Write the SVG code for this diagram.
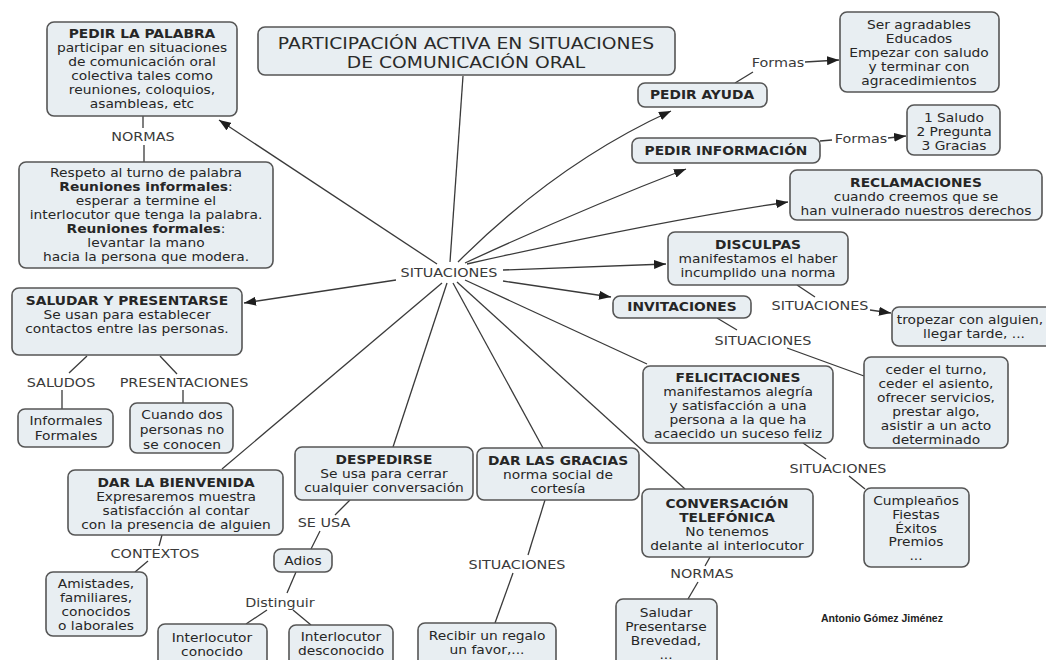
<svg xmlns="http://www.w3.org/2000/svg" width="1046" height="660" viewBox="0 0 1046 660">
<style>
.bx{fill:#e8eef2;stroke:#555;stroke-width:1.6}
.t{font-family:"DejaVu Sans",Verdana,sans-serif;font-size:11.5px;fill:#262626;text-anchor:middle}
.b{font-weight:bold}
.lb{font-family:"DejaVu Sans",Verdana,sans-serif;font-size:12px;fill:#3a3a3a;text-anchor:middle}
.ttl{font-family:"DejaVu Sans",Verdana,sans-serif;font-size:15.6px;fill:#2a2a2a;text-anchor:middle}
.c{fill:none;stroke:#3a3a3a;stroke-width:1.3}
.a{marker-end:url(#ah)}
</style>
<defs>
<marker id="ah" markerUnits="userSpaceOnUse" markerWidth="13" markerHeight="9" refX="12" refY="4.5" orient="auto">
<path d="M0,0 L12,4.5 L0,9 z" fill="#1e1e1e"/>
</marker>
</defs>
<rect width="1046" height="660" fill="#fff"/>

<g id="connectors">
<path class="c" d="M463,76 L450,262"/>
<path class="c a" d="M437,264 L219,120"/>
<path class="c a" d="M396,280 L244,303"/>
<path class="c" d="M442,283 L222,469"/>
<path class="c" d="M447,283 L393,447"/>
<path class="c" d="M453,283 L543,448"/>
<path class="c" d="M457,282 L685,489"/>
<path class="c" d="M465,280 L647,364"/>
<path class="c a" d="M503,281 L611,297"/>
<path class="c a" d="M503,270 L666,264"/>
<path class="c a" d="M467,264 Q658,221 788,202"/>
<path class="c a" d="M465,263 Q575,212 686,169"/>
<path class="c a" d="M458,262 Q557,163 671,111"/>
<path class="c" d="M143,116 L143,128"/>
<path class="c" d="M144,145 L144,162"/>
<path class="c" d="M87,356 L69,373"/>
<path class="c" d="M62,390 L62,409"/>
<path class="c" d="M160,356 L177,374"/>
<path class="c" d="M183,390 L183,403"/>
<path class="c" d="M162,535 L159,546"/>
<path class="c" d="M148,561 L135,572"/>
<path class="c" d="M350,500 L335,515"/>
<path class="c" d="M320,531 L311,549"/>
<path class="c" d="M296,572 L287,593"/>
<path class="c" d="M267,610 L246,624"/>
<path class="c" d="M293,610 L311,625"/>
<path class="c" d="M545,500 L528,555"/>
<path class="c" d="M513,573 L495,623"/>
<path class="c" d="M710,557 L705,566"/>
<path class="c" d="M698,582 L688,599"/>
<path class="c" d="M803,443 L826,459"/>
<path class="c" d="M849,476 L865,489"/>
<path class="c" d="M717,318 L737,330"/>
<path class="c" d="M787,348 L864,376"/>
<path class="c" d="M797,285 L815,297"/>
<path class="c a" d="M870,310 L891,313"/>
<path class="c" d="M820,141 L832,140"/>
<path class="c a" d="M888,138 L906,136"/>
<path class="c" d="M735,83 L753,72"/>
<path class="c a" d="M805,62 L839,60"/>
</g>

<g id="labels">
<text class="lb" transform="translate(449,277) scale(1.2,1)">SITUACIONES</text>
<text class="lb" transform="translate(143,141) scale(1.2,1)">NORMAS</text>
<text class="lb" transform="translate(61,387) scale(1.2,1)">SALUDOS</text>
<text class="lb" transform="translate(184,387) scale(1.2,1)">PRESENTACIONES</text>
<text class="lb" transform="translate(155,558) scale(1.2,1)">CONTEXTOS</text>
<text class="lb" transform="translate(324,527) scale(1.2,1)">SE USA</text>
<text class="lb" transform="translate(280,607) scale(1.2,1)">Distinguir</text>
<text class="lb" transform="translate(517,569) scale(1.2,1)">SITUACIONES</text>
<text class="lb" transform="translate(702,578) scale(1.2,1)">NORMAS</text>
<text class="lb" transform="translate(838,473) scale(1.2,1)">SITUACIONES</text>
<text class="lb" transform="translate(763,345) scale(1.2,1)">SITUACIONES</text>
<text class="lb" transform="translate(820,310) scale(1.2,1)">SITUACIONES</text>
<text class="lb" transform="translate(861,143) scale(1.2,1)">Formas</text>
<text class="lb" transform="translate(778,67) scale(1.2,1)">Formas</text>
<text x="882" y="622" style="font-family:'Liberation Sans',Arial,sans-serif;font-size:10.5px;font-weight:bold;fill:#222;text-anchor:middle">Antonio Gómez Jiménez</text>
</g>

<g id="title">
<rect class="bx" x="258" y="27" width="417" height="48" rx="7"/>
<text class="ttl" transform="translate(466,49) scale(1.2,1)">PARTICIPACIÓN ACTIVA EN SITUACIONES</text>
<text class="ttl" transform="translate(466,68) scale(1.2,1)">DE COMUNICACIÓN ORAL</text>
</g>

<g id="pedir-palabra">
<rect class="bx" x="47" y="22" width="190" height="94" rx="7"/>
<text class="t b" transform="translate(142,38) scale(1.2,1)">PEDIR LA PALABRA</text>
<text class="t" transform="translate(142,52) scale(1.2,1)">participar en situaciones</text>
<text class="t" transform="translate(142,66) scale(1.2,1)">de comunicación oral</text>
<text class="t" transform="translate(142,80) scale(1.2,1)">colectiva tales como</text>
<text class="t" transform="translate(142,94) scale(1.2,1)">reuniones, coloquios,</text>
<text class="t" transform="translate(142,108) scale(1.2,1)">asambleas, etc</text>
</g>

<g id="respeto">
<rect class="bx" x="19" y="162" width="254" height="106" rx="7"/>
<text class="t" transform="translate(146,177) scale(1.2,1)">Respeto al turno de palabra</text>
<text class="t" transform="translate(146,191) scale(1.2,1)"><tspan class="b">Reuniones informales</tspan>:</text>
<text class="t" transform="translate(146,205) scale(1.2,1)">esperar a termine el</text>
<text class="t" transform="translate(146,219) scale(1.2,1)">interlocutor que tenga la palabra.</text>
<text class="t" transform="translate(146,233) scale(1.2,1)"><tspan class="b">Reuniones formales</tspan>:</text>
<text class="t" transform="translate(146,247) scale(1.2,1)">levantar la mano</text>
<text class="t" transform="translate(146,261) scale(1.2,1)">hacia la persona que modera.</text>
</g>

<g id="saludar">
<rect class="bx" x="12" y="288" width="230" height="67" rx="7"/>
<text class="t b" transform="translate(127,305) scale(1.2,1)">SALUDAR Y PRESENTARSE</text>
<text class="t" transform="translate(127,319) scale(1.2,1)">Se usan para establecer</text>
<text class="t" transform="translate(127,333) scale(1.2,1)">contactos entre las personas.</text>
</g>

<g id="informales">
<rect class="bx" x="18" y="409" width="95" height="38" rx="7"/>
<text class="t" transform="translate(66,425) scale(1.2,1)">Informales</text>
<text class="t" transform="translate(66,440) scale(1.2,1)">Formales</text>
</g>

<g id="cuando-dos">
<rect class="bx" x="130" y="403" width="103" height="50" rx="7"/>
<text class="t" transform="translate(182,419) scale(1.2,1)">Cuando dos</text>
<text class="t" transform="translate(182,434) scale(1.2,1)">personas no</text>
<text class="t" transform="translate(182,449) scale(1.2,1)">se conocen</text>
</g>

<g id="bienvenida">
<rect class="bx" x="68" y="470" width="215" height="65" rx="7"/>
<text class="t b" transform="translate(176,487) scale(1.2,1)">DAR LA BIENVENIDA</text>
<text class="t" transform="translate(176,501) scale(1.2,1)">Expresaremos muestra</text>
<text class="t" transform="translate(176,515) scale(1.2,1)">satisfacción al contar</text>
<text class="t" transform="translate(176,529) scale(1.2,1)">con la presencia de alguien</text>
</g>

<g id="amistades">
<rect class="bx" x="46" y="572" width="101" height="64" rx="7"/>
<text class="t" transform="translate(96,588) scale(1.2,1)">Amistades,</text>
<text class="t" transform="translate(96,602) scale(1.2,1)">familiares,</text>
<text class="t" transform="translate(96,616) scale(1.2,1)">conocidos</text>
<text class="t" transform="translate(96,630) scale(1.2,1)">o laborales</text>
</g>

<g id="despedirse">
<rect class="bx" x="295" y="447" width="178" height="53" rx="7"/>
<text class="t b" transform="translate(384,464) scale(1.2,1)">DESPEDIRSE</text>
<text class="t" transform="translate(384,478) scale(1.2,1)">Se usa para cerrar</text>
<text class="t" transform="translate(384,492) scale(1.2,1)">cualquier conversación</text>
</g>

<g id="adios">
<rect class="bx" x="274" y="549" width="58" height="23" rx="7"/>
<text class="t" transform="translate(303,565) scale(1.2,1)">Adios</text>
</g>

<g id="conocido">
<rect class="bx" x="158" y="624" width="109" height="44" rx="7"/>
<text class="t" transform="translate(212,642) scale(1.2,1)">Interlocutor</text>
<text class="t" transform="translate(212,656) scale(1.2,1)">conocido</text>
</g>

<g id="desconocido">
<rect class="bx" x="289" y="625" width="104" height="44" rx="7"/>
<text class="t" transform="translate(341,641) scale(1.2,1)">Interlocutor</text>
<text class="t" transform="translate(341,655) scale(1.2,1)">desconocido</text>
</g>

<g id="gracias">
<rect class="bx" x="477" y="448" width="162" height="52" rx="7"/>
<text class="t b" transform="translate(558,465) scale(1.2,1)">DAR LAS GRACIAS</text>
<text class="t" transform="translate(558,479) scale(1.2,1)">norma social de</text>
<text class="t" transform="translate(558,493) scale(1.2,1)">cortesía</text>
</g>

<g id="recibir">
<rect class="bx" x="418" y="623" width="138" height="44" rx="7"/>
<text class="t" transform="translate(487,640) scale(1.2,1)">Recibir un regalo</text>
<text class="t" transform="translate(487,654) scale(1.2,1)">un favor,...</text>
</g>

<g id="telefonica">
<rect class="bx" x="642" y="489" width="171" height="68" rx="7"/>
<text class="t b" transform="translate(727,508) scale(1.2,1)">CONVERSACIÓN</text>
<text class="t b" transform="translate(727,522) scale(1.2,1)">TELEFÓNICA</text>
<text class="t" transform="translate(727,536) scale(1.2,1)">No tenemos</text>
<text class="t" transform="translate(727,550) scale(1.2,1)">delante al interlocutor</text>
</g>

<g id="saludar-presentarse">
<rect class="bx" x="616" y="599" width="101" height="68" rx="7"/>
<text class="t" transform="translate(666,617) scale(1.2,1)">Saludar</text>
<text class="t" transform="translate(666,631) scale(1.2,1)">Presentarse</text>
<text class="t" transform="translate(666,645) scale(1.2,1)">Brevedad,</text>
<text class="t" transform="translate(666,659) scale(1.2,1)">...</text>
</g>

<g id="felicitaciones">
<rect class="bx" x="643" y="366" width="190" height="77" rx="7"/>
<text class="t b" transform="translate(738,382) scale(1.2,1)">FELICITACIONES</text>
<text class="t" transform="translate(738,396) scale(1.2,1)">manifestamos alegría</text>
<text class="t" transform="translate(738,410) scale(1.2,1)">y satisfacción a una</text>
<text class="t" transform="translate(738,424) scale(1.2,1)">persona a la que ha</text>
<text class="t" transform="translate(738,438) scale(1.2,1)">acaecido un suceso feliz</text>
</g>

<g id="cumpleanos">
<rect class="bx" x="864" y="488" width="105" height="79" rx="7"/>
<text class="t" transform="translate(916,505) scale(1.2,1)">Cumpleaños</text>
<text class="t" transform="translate(916,519) scale(1.2,1)">Fiestas</text>
<text class="t" transform="translate(916,533) scale(1.2,1)">Éxitos</text>
<text class="t" transform="translate(916,546) scale(1.2,1)">Premios</text>
<text class="t" transform="translate(916,560) scale(1.2,1)">...</text>
</g>

<g id="ceder">
<rect class="bx" x="864" y="357" width="144" height="91" rx="7"/>
<text class="t" transform="translate(936,374) scale(1.2,1)">ceder el turno,</text>
<text class="t" transform="translate(936,388) scale(1.2,1)">ceder el asiento,</text>
<text class="t" transform="translate(936,402) scale(1.2,1)">ofrecer servicios,</text>
<text class="t" transform="translate(936,416) scale(1.2,1)">prestar algo,</text>
<text class="t" transform="translate(936,430) scale(1.2,1)">asistir a un acto</text>
<text class="t" transform="translate(936,444) scale(1.2,1)">determinado</text>
</g>

<g id="invitaciones">
<rect class="bx" x="613" y="296" width="138" height="22" rx="7"/>
<text class="t b" transform="translate(682,311) scale(1.2,1)">INVITACIONES</text>
</g>

<g id="disculpas">
<rect class="bx" x="668" y="232" width="180" height="53" rx="7"/>
<text class="t b" transform="translate(758,249) scale(1.2,1)">DISCULPAS</text>
<text class="t" transform="translate(758,263) scale(1.2,1)">manifestamos el haber</text>
<text class="t" transform="translate(758,277) scale(1.2,1)">incumplido una norma</text>
</g>

<g id="tropezar">
<rect class="bx" x="892" y="307" width="170" height="39" rx="7"/>
<text class="t" transform="translate(970,324) scale(1.2,1)">tropezar con alguien,</text>
<text class="t" transform="translate(974,338) scale(1.2,1)">llegar tarde, ...</text>
</g>

<g id="reclamaciones">
<rect class="bx" x="790" y="170" width="252" height="50" rx="7"/>
<text class="t b" transform="translate(916,187) scale(1.2,1)">RECLAMACIONES</text>
<text class="t" transform="translate(916,201) scale(1.2,1)">cuando creemos que se</text>
<text class="t" transform="translate(916,215) scale(1.2,1)">han vulnerado nuestros derechos</text>
</g>

<g id="pedir-informacion">
<rect class="bx" x="632" y="138" width="188" height="25" rx="7"/>
<text class="t b" transform="translate(726,155) scale(1.2,1)">PEDIR INFORMACIÓN</text>
</g>

<g id="saludo-pregunta">
<rect class="bx" x="907" y="105" width="93" height="50" rx="7"/>
<text class="t" transform="translate(954,122) scale(1.2,1)">1 Saludo</text>
<text class="t" transform="translate(954,136) scale(1.2,1)">2 Pregunta</text>
<text class="t" transform="translate(954,150) scale(1.2,1)">3 Gracias</text>
</g>

<g id="pedir-ayuda">
<rect class="bx" x="638" y="83" width="129" height="24" rx="7"/>
<text class="t b" transform="translate(702,99) scale(1.2,1)">PEDIR AYUDA</text>
</g>

<g id="ser-agradables">
<rect class="bx" x="840" y="12" width="159" height="80" rx="7"/>
<text class="t" transform="translate(919,29) scale(1.2,1)">Ser agradables</text>
<text class="t" transform="translate(919,43) scale(1.2,1)">Educados</text>
<text class="t" transform="translate(919,57) scale(1.2,1)">Empezar con saludo</text>
<text class="t" transform="translate(919,71) scale(1.2,1)">y terminar con</text>
<text class="t" transform="translate(919,85) scale(1.2,1)">agracedimientos</text>
</g>
</svg>
